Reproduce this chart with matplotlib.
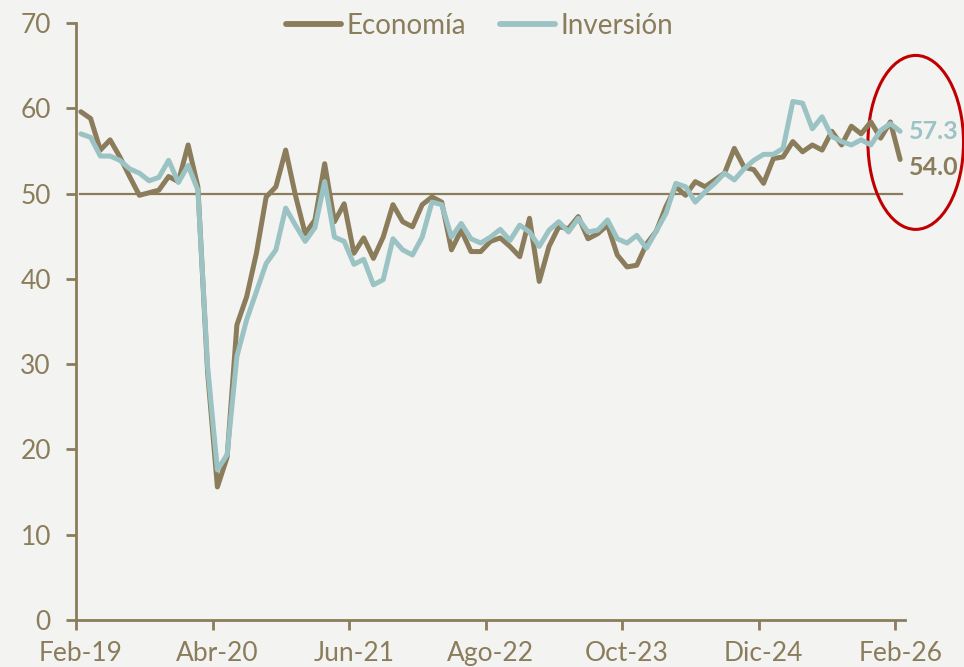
import matplotlib
matplotlib.use('Agg')
import matplotlib.pyplot as plt
from matplotlib.patches import Ellipse
from matplotlib.transforms import ScaledTranslation

# monthly series, Feb-19 .. Feb-26
economia = [59.6, 58.8, 55.1, 56.3, 54.3, 52.0, 49.8, 50.1, 50.4, 52.0,
            51.4, 55.7, 50.8, 29.0, 15.6, 19.1, 34.6, 37.9, 43.0, 49.6,
            50.8, 55.1, 49.8, 45.3, 46.9, 53.5, 46.7, 48.8, 43.0, 44.8,
            42.4, 44.9, 48.7, 46.7, 46.1, 48.7, 49.6, 49.0, 43.4, 45.7,
            43.2, 43.2, 44.4, 44.8, 43.8, 42.6, 47.1, 39.7, 43.8, 46.1,
            45.9, 47.3, 44.7, 45.3, 46.3, 42.8, 41.4, 41.6, 44.1, 45.6,
            48.5, 50.8, 49.8, 51.4, 50.8, 51.6, 52.4, 55.3, 53.1, 52.8,
            51.2, 54.1, 54.3, 56.1, 54.9, 55.7, 55.1, 57.3, 55.7, 57.9,
            57.0, 58.4, 56.5, 58.4, 54.0]
inversion = [57.0, 56.6, 54.4, 54.4, 53.9, 52.9, 52.4, 51.5, 51.9, 53.9,
             51.3, 53.3, 50.4, 29.7, 17.6, 19.4, 30.9, 35.2, 38.5, 41.8,
             43.4, 48.3, 46.3, 44.4, 46.0, 51.4, 44.9, 44.4, 41.7, 42.3,
             39.3, 39.9, 44.7, 43.4, 42.8, 44.9, 49.0, 48.7, 44.9, 46.5,
             44.7, 44.2, 44.9, 45.8, 44.5, 46.3, 45.5, 43.8, 45.7, 46.7,
             45.5, 47.1, 45.5, 45.7, 46.9, 44.7, 44.2, 45.1, 43.6, 45.6,
             47.7, 51.2, 50.8, 49.0, 50.2, 51.2, 52.4, 51.6, 52.9, 53.9,
             54.6, 54.6, 55.3, 60.8, 60.6, 57.6, 59.0, 56.7, 56.1, 55.7,
             56.3, 55.7, 57.4, 58.2, 57.3]
tick_labels = ['Feb-19', 'Abr-20', 'Jun-21', 'Ago-22', 'Oct-23', 'Dic-24', 'Feb-26']
tick_step = 14
threshold = 50

brown = '#8b7d5b'
teal = '#9cc3c3'
bg = '#f3f3f1'

plt.rcParams['font.family'] = ['Lato', 'DejaVu Sans']

fig = plt.figure(figsize=(9.64, 6.67), dpi=100, facecolor=bg)
ax = fig.add_axes([0.0788, 0.0705, 0.860, 0.895])
ax.set_facecolor(bg)

n = len(economia)
xs = [i + 0.5 for i in range(n)]

ax.plot([0.4, n - 0.3], [threshold, threshold], color=brown, lw=1.6, zorder=1)
ax.plot(xs, economia, color=brown, lw=3.6, label='Economía', zorder=2,
        solid_capstyle='round')
ax.plot(xs, inversion, color=teal, lw=3.6, label='Inversión', zorder=3,
        solid_capstyle='round')

ax.set_xlim(0, n)
ax.set_ylim(0, 70)
ax.set_xticks(range(0, n, tick_step))
ax.set_xticklabels(tick_labels)
ax.set_yticks(range(0, 71, 10))

for s in ['top', 'right']:
    ax.spines[s].set_visible(False)
for s in ['left', 'bottom']:
    ax.spines[s].set_color(brown)
    ax.spines[s].set_linewidth(2)
ax.tick_params(colors=brown, labelcolor=brown, width=2, length=7,
               labelsize=19)
ax.tick_params(axis='y', pad=11)
ax.tick_params(axis='x', pad=8)
# x labels sit a little to the right of their ticks
shift = ScaledTranslation(5 / 100, 0, fig.dpi_scale_trans)
for lab in ax.get_xticklabels():
    lab.set_transform(lab.get_transform() + shift)

# last values
ax.text(n + 0.4, inversion[-1], f'{inversion[-1]:.1f}', color=teal,
        fontsize=18, fontweight='bold', va='center', ha='left', clip_on=False)
ax.text(n + 0.4, economia[-1] - 0.9, f'{economia[-1]:.1f}', color=brown,
        fontsize=18, fontweight='bold', va='center', ha='left', clip_on=False)
ax.add_patch(Ellipse((n + 1.1, 56.0), 9.8, 20.4, fill=False,
                     edgecolor='#c00000', lw=2.2, clip_on=False))

leg = ax.legend(loc='center', bbox_to_anchor=(0.487, 0.995), ncol=2,
                frameon=False, fontsize=20, handlelength=2.0,
                handletextpad=0.2, columnspacing=1.2)
for t in leg.get_texts():
    t.set_color(brown)
for h in leg.get_lines():
    h.set_linewidth(4.2)
    h.set_solid_capstyle('round')

fig.savefig('out.png', dpi=100, facecolor=bg)
